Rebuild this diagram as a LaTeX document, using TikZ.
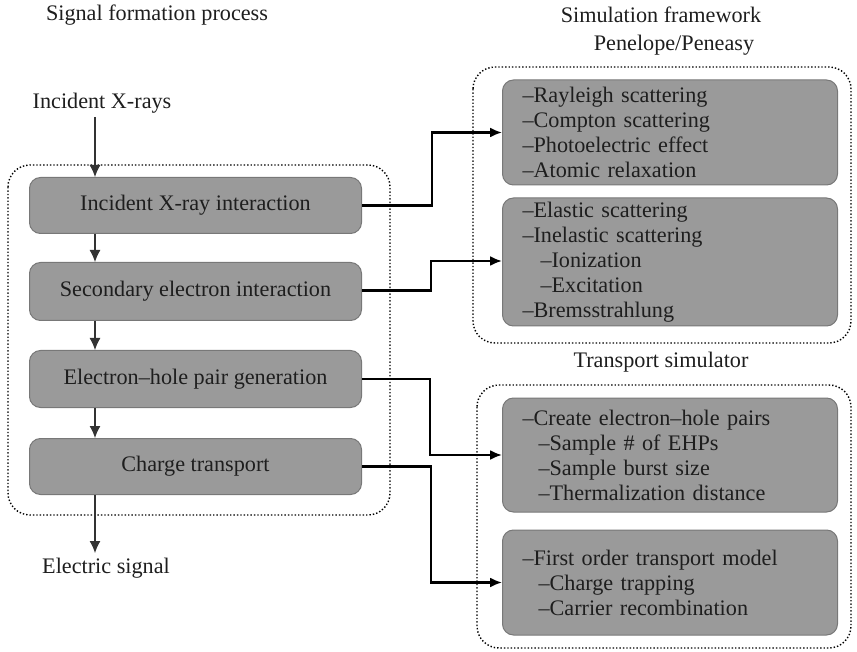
\documentclass[tikz,border=0pt]{standalone}
\usepackage{fontspec}
\setmainfont{Liberation Serif}
\usetikzlibrary{arrows.meta}
\definecolor{boxfill}{HTML}{9A9A9A}
\definecolor{boxline}{HTML}{787878}
\definecolor{txt}{HTML}{1E1E1E}
\begin{document}
\begin{tikzpicture}[x=1pt,y=-1pt,
  every node/.style={text=txt,font=\fontsize{22.2}{25}\selectfont},
  lbox/.style={draw=boxline,line width=1pt,fill=boxfill,rounded corners=11pt,minimum width=332pt,anchor=north west,inner sep=0pt},
  rbox/.style={draw=boxline,line width=1pt,fill=boxfill,rounded corners=11pt,minimum width=330pt,text width=295pt,align=left,inner xsep=20pt,inner ysep=0pt,anchor=west},
  dotbox/.style={draw=black,dotted,line width=1.4pt,rounded corners=22pt},
  conn/.style={draw=black,line width=2.2pt,-{Latex[length=12pt,width=10pt]}},
  vconn/.style={draw=black!80,line width=1.1pt,-{Latex[length=12pt,width=11pt]}},
  lbl/.style={inner sep=0pt},
  pt/.style={inner sep=0pt,minimum size=0pt}]
\useasboundingbox (0,0) rectangle (857,652);
% titles
\node[lbl] (t1) at (157,15) {Signal formation process};
\node[lbl] (t2) at (661,15) {Simulation framework};
\node[lbl] (t3) at (674,45) {Penelope/Peneasy};
\node[lbl] (t4) at (661,362) {Transport simulator};
% dotted groups
\draw[dotbox] (8,165) rectangle (390,515);
\draw[dotbox] (473,67) rectangle (851,343);
\draw[dotbox] (477,385) rectangle (851,648);
% left chain
\node[lbl] (in) at (102,103) {Incident X-rays};
\node[lbl] (out) at (106,568) {Electric signal};
\node[pt] (incpt) at (95,117) {};
\node[pt] (outpt) at (95,553) {};
\node[lbox,minimum height=56pt] (b1) at (29,177) {Incident X-ray interaction};
\node[lbox,minimum height=58pt] (b2) at (29,262) {Secondary electron interaction};
\node[lbox,minimum height=57pt] (b3) at (29,350) {Electron--hole pair generation};
\node[lbox,minimum height=56pt] (b4) at (29,438) {Charge transport};
\draw[vconn] (incpt.center) -- (b1.north -| incpt.center);
\draw[vconn] (b1.south -| incpt.center) -- (b2.north -| incpt.center);
\draw[vconn] (b2.south -| incpt.center) -- (b3.north -| incpt.center);
\draw[vconn] (b3.south -| incpt.center) -- (b4.north -| incpt.center);
\draw[vconn] (b4.south -| incpt.center) -- (outpt.center);
% right boxes
\node[rbox,minimum height=105pt] (rA) at (502,132.5) {--Rayleigh scattering\\--Compton scattering\\--Photoelectric effect\\--Atomic relaxation};
\node[rbox,minimum height=128pt] (rB) at (502,262) {--Elastic scattering\\--Inelastic scattering\\\hspace*{18pt}--Ionization\\\hspace*{18pt}--Excitation\\--Bremsstrahlung};
\node[rbox,minimum height=114pt] (rC) at (502,455) {--Create electron--hole pairs\\\hspace*{16pt}--Sample \# of EHPs\\\hspace*{16pt}--Sample burst size\\\hspace*{16pt}--Thermalization distance};
\node[rbox,minimum height=105pt] (rD) at (502,582.5) {--First order transport model\\\hspace*{16pt}--Charge trapping\\\hspace*{16pt}--Carrier recombination};
% connectors
\draw[conn] (b1.east) -- ++(70,0) |- (rA.west);
\draw[conn] ([yshift=1pt]b2.east) -- ++(69,0) |- ([yshift=1pt]rB.west);
\draw[conn] (b3.east) -- ++(68,0) |- (rC.west);
\draw[conn] (b4.east) -- ++(69,0) |- (rD.west);
\end{tikzpicture}
\end{document}
